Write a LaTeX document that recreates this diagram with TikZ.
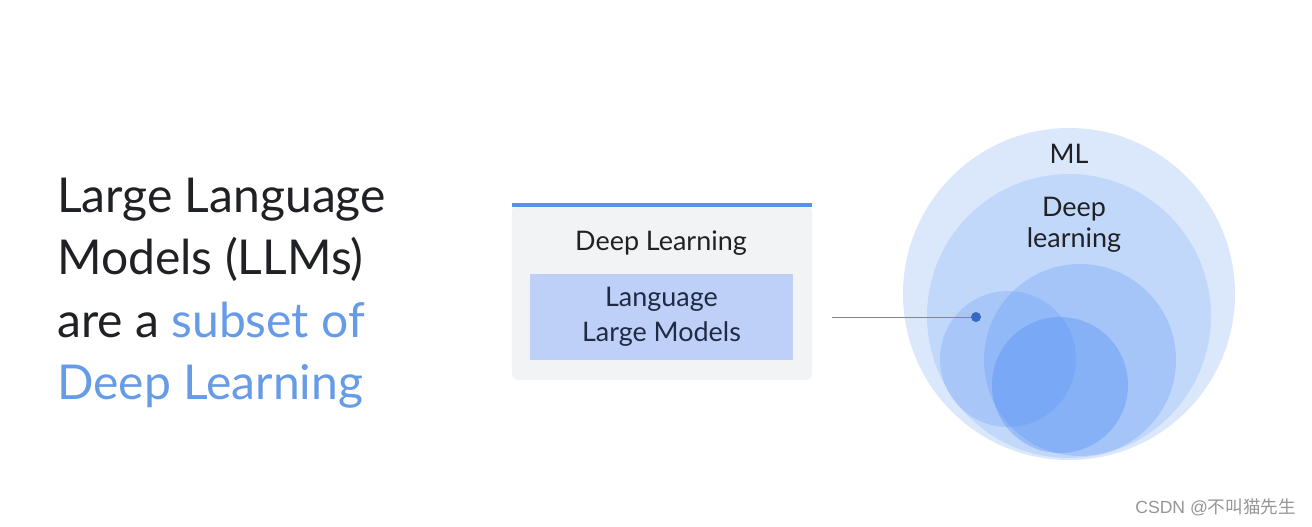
\documentclass[tikz,border=0pt]{standalone}
\usepackage{fontspec}
\setmainfont{Lato}
\newfontfamily\cjkfont{Noto Sans CJK SC}
\newfontfamily\wmfont{Liberation Sans}
\usepackage{tikz}
\usetikzlibrary{positioning}
\definecolor{gdark}{RGB}{32,33,36}
\definecolor{gblue}{RGB}{66,133,244}
\definecolor{subblue}{RGB}{102,155,232}
\definecolor{barblue}{RGB}{90,145,230}
\definecolor{boxgrey}{RGB}{241,243,244}
\definecolor{llmfill}{RGB}{190,208,247}
\definecolor{navytext}{RGB}{31,42,68}
\definecolor{linegrey}{RGB}{128,134,139}
\definecolor{wmgrey}{RGB}{150,150,150}

\begin{document}
\begin{tikzpicture}[
x=0.03cm, y=-0.03cm,
TitleText/.style={anchor=base west, inner sep=0pt, font=\fontsize{41}{54}\selectfont, text=gdark},
BoxText/.style={font=\fontsize{23}{28}\selectfont, text=gdark, inner sep=0pt},
DLBox/.style={fill=boxgrey, rounded corners=0.2cm, minimum width=9cm, minimum height=5.25cm, inner sep=0pt},
TopBar/.style={draw=barblue, line width=0.12cm},
LLMBox/.style={fill=llmfill, minimum width=7.89cm, minimum height=2.58cm, align=center,
  font=\fontsize{23}{30}\selectfont, text=navytext, inner sep=0pt},
MyCircles/.style={fill=gblue, fill opacity=#1},
MyDot/.style={circle, fill=gblue!80!black, minimum size=0.3cm, inner sep=0pt},
Segments/.style={draw=linegrey, line width=0.6pt}
]
\useasboundingbox[fill=white] (0,0) rectangle (1312,526);

% left title, one line per node
\node[TitleText] (line1) at (57,212) {Large Language};
\node[TitleText] (line2) at (57,274.5) {Models (LLMs)};
\node[TitleText] (line3) at (57,337) {are a \textcolor{subblue}{subset of}};
\node[TitleText, text=subblue] (line4) at (57,399.5) {Deep Learning};

% middle box
\node[DLBox] (dlbox) at (662,292.5) {};
\draw[TopBar] (dlbox.north west) -- (dlbox.north east);
\node[BoxText] (dltext) at (661,243) {Deep Learning};
\node[LLMBox] (llm) at (661.5,317) {Language\\Large Models};

% nested circles
\path[MyCircles=0.19] (1069,294) circle (166);
\path[MyCircles=0.16] (1069,316) circle (142);
\path[MyCircles=0.2] (1008,359) circle (68);
\path[MyCircles=0.22] (1080,360) circle (96);
\path[MyCircles=0.3] (1060,385) circle (68);

\node[BoxText] (ml) at (1069,154) {ML};
\node[BoxText, align=center, font=\fontsize{23}{26}\selectfont] (deep) at (1074,225) {Deep\\learning};

% pointer from the box to the LLM circle
\node[MyDot] (dot) at (976,317) {};
\coordinate (lineStart) at (832,317);
\draw[Segments] (lineStart) -- (dot);

\node[anchor=base east, inner sep=0pt, text=wmgrey, font=\fontsize{15}{18}\selectfont] (mark) at (1296,513)
  {\wmfont CSDN @\cjkfont 不叫猫先生};
\end{tikzpicture}
\end{document}
